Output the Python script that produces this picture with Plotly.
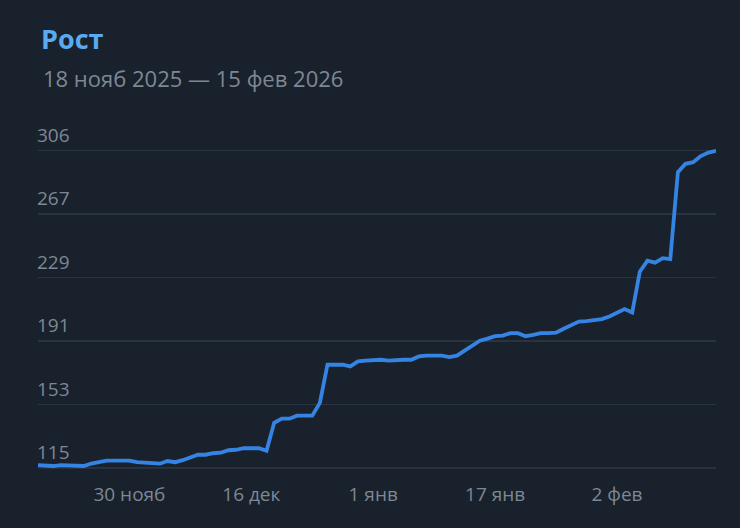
import plotly.graph_objects as go
import pandas as pd

start_date = "2025-11-18"
values = [
    116.5, 116.0, 116.0, 116.5, 116.5, 116.0, 116.0, 117.5, 118.3, 119.2,
    119.2, 119.2, 119.2, 118.3, 118.0, 117.4, 117.4, 119.0, 118.3, 119.5,
    121.3, 122.8, 122.8, 123.7, 124.0, 125.5, 125.8, 126.7, 126.7, 126.7,
    125.2, 142.0, 144.5, 144.5, 146.3, 146.3, 146.3, 154.0, 177.0, 177.0,
    177.0, 176.0, 179.0, 179.5, 180.0, 180.0, 179.5, 180.0, 180.0, 180.0,
    182.0, 182.5, 182.5, 182.5, 181.6, 182.5, 185.5, 188.5, 191.5, 192.7,
    194.2, 194.5, 196.0, 196.0, 194.2, 195.0, 196.0, 196.0, 196.3, 198.7,
    201.0, 203.0, 203.3, 204.0, 204.5, 206.0, 208.0, 210.5, 208.4, 233.0,
    239.7, 238.5, 241.2, 240.6, 293.0, 298.0, 299.0, 302.7, 304.8, 305.8,
]
dates = pd.date_range(start_date, periods=len(values), freq="D")

y_tick_vals = [115, 153.2, 191.4, 229.6, 267.8, 306]
y_tick_text = ["115", "153", "191", "229", "267", "306"]
x_tick_vals = ["2025-11-30", "2025-12-16", "2026-01-01", "2026-01-17", "2026-02-02"]
x_tick_text = ["30 нояб", "16 дек", "1 янв", "17 янв", "2 фев"]

title_text = "Рост"
subtitle_text = "18 нояб 2025 — 15 фев 2026"

BG = "#19212c"
GRID = "#2a3440"
BASE = "#343e4a"
TICK = "#7d8895"
LINE = "#3584e4"
FONT = "Open Sans"

SCALE = 1.66  # px per unit
Y_MIN, Y_MAX = 113, 328
Y_BASE_PX = 468
TOP = Y_BASE_PX - (Y_MAX - 115) * SCALE
BOTTOM = 528 - (Y_BASE_PX + (115 - Y_MIN) * SCALE)
PLOT_H = 528 - TOP - BOTTOM

fig = go.Figure()
fig.add_trace(go.Scatter(
    x=dates, y=values, mode="lines",
    line=dict(color=LINE, width=3.8),
    hoverinfo="skip", showlegend=False,
))

fig.add_shape(
    type="line", xref="paper", yref="y",
    x0=0, x1=1, y0=115, y1=115,
    line=dict(color=BASE, width=1.5), layer="below",
)

fig.update_layout(
    width=740, height=528,
    paper_bgcolor=BG, plot_bgcolor=BG,
    margin=dict(l=37.6, r=24, t=TOP, b=BOTTOM, pad=0),
    font=dict(family=FONT, color=TICK, size=19),
    hovermode=False,
    title=dict(
        text="<b>" + title_text + "</b>",
        font=dict(family=FONT, size=27, color="#5aaaf0"),
        xref="container", yref="container",
        x=41 / 740, y=1 - 40 / 528, xanchor="left", yanchor="middle",
    ),
    annotations=[dict(
        text=subtitle_text, showarrow=False,
        xref="paper", yref="paper",
        x=(40.5 - 37.6) / 678.4,
        y=(528 - BOTTOM - 78) / PLOT_H,
        xanchor="left", yanchor="middle",
        font=dict(family=FONT, size=22, color="#7d8895"),
    )],
    xaxis=dict(
        range=[dates[0], dates[-1]],
        tickvals=x_tick_vals, ticktext=x_tick_text,
        showgrid=False, zeroline=False, showline=False,
        ticks="outside", ticklen=6, tickcolor="rgba(0,0,0,0)",
        tickfont=dict(family=FONT, size=19, color=TICK),
        fixedrange=True,
    ),
    yaxis=dict(
        range=[Y_MIN, Y_MAX],
        tickvals=y_tick_vals, ticktext=y_tick_text,
        ticklabelposition="inside top",
        ticklabelstandoff=-4, ticklabelshift=-2,
        showgrid=True, gridcolor=GRID, gridwidth=1.5,
        zeroline=False, showline=False, ticks="",
        tickfont=dict(family=FONT, size=19, color=TICK),
        fixedrange=True,
    ),
)

fig.write_html(
    "out.html",
    config={"displayModeBar": False, "staticPlot": True},
    post_script="document.body.style.margin='0px';document.body.style.background='#19212c';",
)
